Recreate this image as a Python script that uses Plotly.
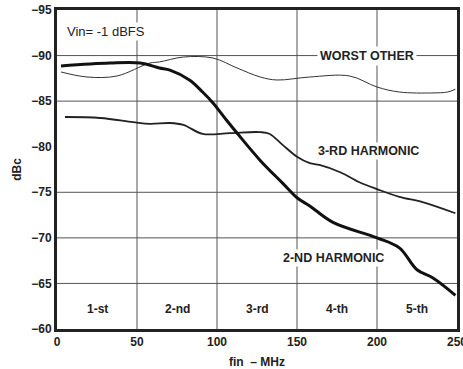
import plotly.graph_objects as go

# Data
worst_f = [2.5, 18.75, 37.5, 58, 64, 79, 97.5, 112.5, 127, 137.5, 158, 183, 200, 214, 235, 244, 249]
worst_v = [-88.2, -87.65, -87.76, -89.18, -89.3, -89.84, -89.73, -88.64, -87.65, -87.32, -87.65, -87.76, -86.55, -86.0, -85.9, -86.0, -86.3]

h2_f = [2.5, 33, 52, 64, 70.6, 83, 91, 97.5, 106, 112.5, 127, 141, 150, 158, 172.5, 200, 214, 225, 235, 249]
h2_v = [-88.86, -89.18, -89.18, -88.64, -88.4, -87.3, -86.0, -84.8, -82.9, -81.5, -78.5, -76.0, -74.4, -73.5, -71.7, -70.0, -68.9, -66.5, -65.6, -63.7]

h3_f = [5, 27, 47.5, 58, 70.6, 79, 91, 108, 127, 133, 141, 150, 158, 164, 177, 189, 200, 214, 229, 249]
h3_v = [-83.26, -83.15, -82.7, -82.5, -82.6, -82.4, -81.4, -81.5, -81.6, -81.4, -80.2, -78.9, -78.2, -78.0, -77.2, -76.1, -75.35, -74.5, -73.9, -72.7]

grid_y = [-90, -85, -75, -70, -65]
grid_x = [50, 100, 150, 200]
y_ticks = [-95, -90, -85, -80, -75, -70, -65, -60]
x_ticks = [0, 50, 100, 150, 200, 250]

zone_labels = ["1-st", "2-nd", "3-rd", "4-th", "5-th"]
zone_x = [25, 75, 125, 175, 225]
zone_y = -62.2

FONT = "Liberation Sans"
INK = "#222222"

fig = go.Figure()
fig.add_trace(go.Scatter(x=worst_f, y=worst_v, mode="lines", line=dict(color="#333333", width=1, shape="spline"), showlegend=False))
fig.add_trace(go.Scatter(x=h3_f, y=h3_v, mode="lines", line=dict(color="#222222", width=1.8, shape="spline"), showlegend=False))
fig.add_trace(go.Scatter(x=h2_f, y=h2_v, mode="lines", line=dict(color="#111111", width=3, shape="spline"), showlegend=False))

for gy in grid_y:
    fig.add_shape(type="line", xref="x", yref="y", x0=0, x1=250, y0=gy, y1=gy,
                  line=dict(color="#555555", width=1), layer="below")
for gx in grid_x:
    fig.add_shape(type="line", xref="x", yref="y", x0=gx, x1=gx, y0=-95, y1=-60,
                  line=dict(color="#555555", width=1), layer="below")

for lab, zx in zip(zone_labels, zone_x):
    fig.add_annotation(x=zx, y=zone_y, text=lab, showarrow=False,
                       font=dict(family=FONT, size=12, color=INK, weight="bold"))

fig.add_annotation(x=5, y=-92.6, text="Vin= -1 dBFS", showarrow=False, xanchor="left",
                   font=dict(family=FONT, size=13, color=INK), bgcolor="white")
fig.add_annotation(x=194, y=-89.9, text="WORST OTHER", showarrow=False,
                   font=dict(family=FONT, size=12.5, color=INK, weight="bold"), bgcolor="white", borderpad=2)
fig.add_annotation(x=194.5, y=-79.5, text="3-RD HARMONIC", showarrow=False,
                   font=dict(family=FONT, size=12.5, color=INK, weight="bold"), bgcolor="white", borderpad=1)
fig.add_annotation(x=173, y=-67.8, text="2-ND HARMONIC", showarrow=False,
                   font=dict(family=FONT, size=12.5, color=INK, weight="bold"), bgcolor="white", borderpad=1)

fig.update_layout(
    width=463, height=369,
    margin=dict(l=57, r=6, t=10, b=40),
    paper_bgcolor="white", plot_bgcolor="white",
    font=dict(family=FONT, size=12, color=INK),
    xaxis=dict(range=[0, 250], autorange=False, automargin=False, tickvals=x_ticks, showgrid=False, zeroline=False,
               showline=True, mirror=True, linewidth=3, linecolor="#222222", ticks="",
               ticklabeloverflow="allow",
               tickfont=dict(family=FONT, size=12, color=INK, weight="bold"),
               title=dict(text="fin  \u2013 MHz", standoff=10,
                          font=dict(family=FONT, size=12, color=INK, weight="bold"))),
    yaxis=dict(range=[-60, -95], autorange=False, automargin=False, tickvals=y_ticks, showgrid=False, zeroline=False,
               showline=True, mirror=True, linewidth=3, linecolor="#222222", ticks="",
               tickfont=dict(family=FONT, size=12, color=INK, weight="bold"),
               title=dict(text="dBc", standoff=8,
                          font=dict(family=FONT, size=12, color=INK, weight="bold"))),
)

fig.write_html("out.html")
